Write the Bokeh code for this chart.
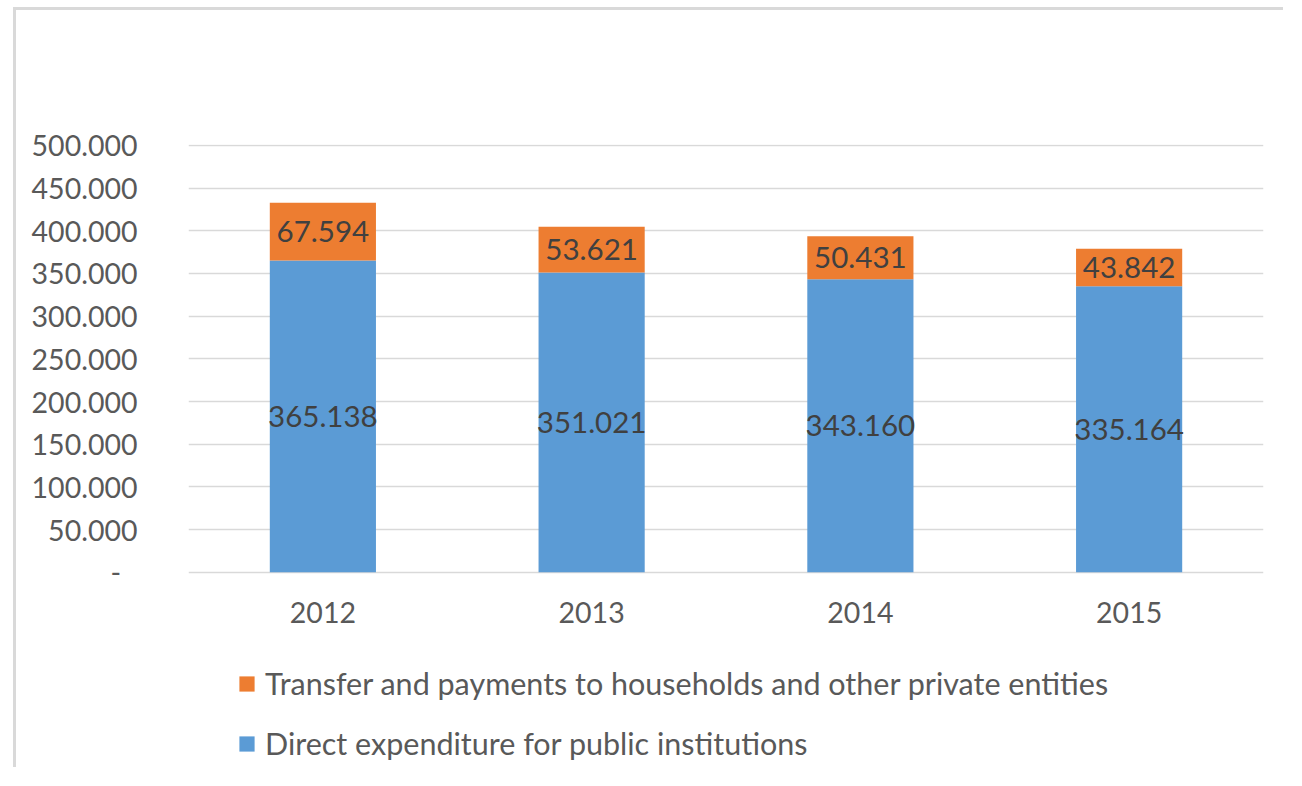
from bokeh.plotting import figure
from bokeh.models import ColumnDataSource, Legend, LegendItem, FixedTicker, Range1d
from bokeh.core.properties import value
from bokeh.embed import file_html
from bokeh.resources import INLINE

years = ["2012", "2013", "2014", "2015"]
direct = [365.138, 351.021, 343.160, 335.164]
transfer = [67.594, 53.621, 50.431, 43.842]
direct_labels = ["365.138", "351.021", "343.160", "335.164"]
transfer_labels = ["67.594", "53.621", "50.431", "43.842"]
series_names = ["Transfer and payments to households and other private entities",
                "Direct expenditure for public institutions"]
tick_values = [0, 50, 100, 150, 200, 250, 300, 350, 400, 450, 500]
tick_labels = ["-\u2007", "50.000", "100.000", "150.000", "200.000", "250.000",
               "300.000", "350.000", "400.000", "450.000", "500.000"]

BLUE = "#5B9BD5"
ORANGE = "#ED7D31"
FONT = "Lato"
FS = "28.5px"
FS_DATA = "29.5px"
FS_LEG = "30.5px"

top = [d + t for d, t in zip(direct, transfer)]
src = ColumnDataSource(dict(
    x=years, direct=direct, top=top,
    dmid=[d / 2 for d in direct],
    tmid=[d + t / 2 for d, t in zip(direct, transfer)],
    dlab=direct_labels, tlab=transfer_labels,
    zero=[0] * len(years),
))

# frame extends below zero so that category labels and legend sit inside it
p = figure(x_range=years, y_range=Range1d(-232, 501), width=1270, height=760,
           output_backend="svg", toolbar_location=None,
           min_border_left=172, min_border_right=23,
           min_border_top=134, min_border_bottom=0)
p.styles = {"border-top": "3px solid #d9d9d9", "border-left": "3px solid #d9d9d9",
            "margin-left": "13px", "margin-top": "7px"}

rb = p.vbar(x="x", bottom=0, top="direct", width=0.395, source=src,
            fill_color=BLUE, line_color=None)
rt = p.vbar(x="x", bottom="direct", top="top", width=0.395, source=src,
            fill_color=ORANGE, line_color=None)

p.text(x="x", y="dmid", text="dlab", source=src, text_align="center",
       text_baseline="middle", text_font=value(FONT), text_font_size=FS_DATA,
       text_color="#404040")
p.text(x="x", y="tmid", text="tlab", source=src, text_align="center",
       text_baseline="middle", text_font=value(FONT), text_font_size=FS_DATA,
       text_color="#404040")
# category labels
p.text(x="x", y="zero", text="x", source=src, text_align="center",
       text_baseline="middle", y_offset=40, text_font=value(FONT),
       text_font_size=FS, text_color="#595959")

p.outline_line_color = None
p.xgrid.grid_line_color = None
p.xaxis.visible = False
p.ygrid.grid_line_color = "#d9d9d9"
p.ygrid.grid_line_width = 1.5
p.yaxis.ticker = FixedTicker(ticks=tick_values)
p.yaxis.major_label_overrides = {v: s for v, s in zip(tick_values, tick_labels)}
ax = p.yaxis[0]
ax.axis_line_color = None
ax.major_tick_line_color = None
ax.minor_tick_line_color = None
ax.major_label_text_font = FONT
ax.major_label_text_font_size = FS
ax.major_label_text_color = "#595959"
ax.major_label_standoff = 45

legend = Legend(items=[LegendItem(label=series_names[0], renderers=[rt]),
                       LegendItem(label=series_names[1], renderers=[rb])],
                location=(49, 9), orientation="vertical",
                padding=0, margin=0, spacing=24,
                glyph_width=19, glyph_height=19, label_height=19,
                label_standoff=9,
                label_text_font=FONT, label_text_font_size=FS_LEG,
                label_text_color="#595959",
                border_line_color=None, background_fill_alpha=0)
p.add_layout(legend, "center")

open("out.html", "w").write(file_html(p, INLINE))
